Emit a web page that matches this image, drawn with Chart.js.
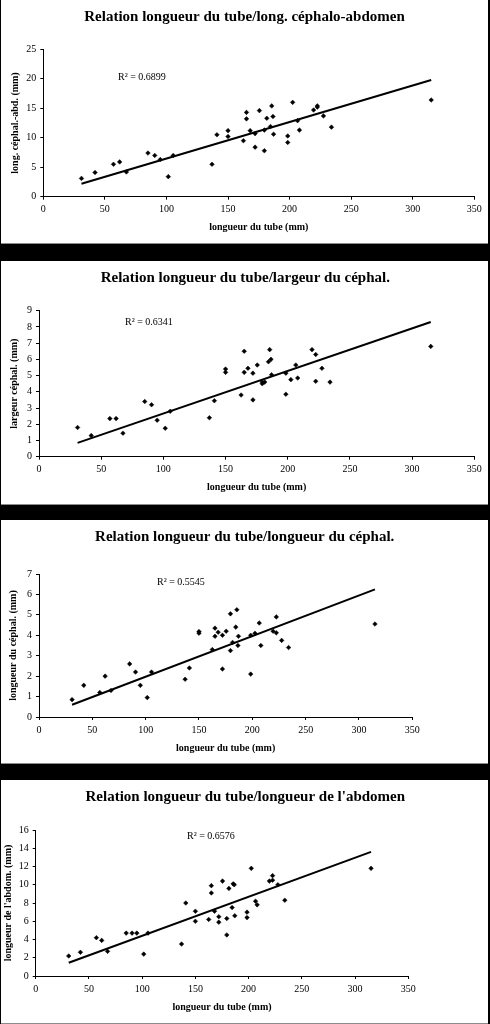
<!DOCTYPE html>
<html><head><meta charset="utf-8">
<script src="https://cdn.jsdelivr.net/npm/chart.js@4.4.0/dist/chart.umd.min.js"></script>
<style>
html,body{margin:0;padding:0;background:#000;width:490px;height:1024px;overflow:hidden;}
.panel{position:absolute;left:1px;width:487px;height:243px;background:#fff;border-bottom:1px solid #8c8c8c;}
.panel canvas{display:block;}
</style></head><body>
<div class="panel" style="top:0px"><canvas id="c1" width="487" height="243"></canvas></div>
<div class="panel" style="top:261px"><canvas id="c2" width="487" height="243"></canvas></div>
<div class="panel" style="top:520px"><canvas id="c3" width="487" height="243"></canvas></div>
<div class="panel" style="top:780px"><canvas id="c4" width="487" height="243"></canvas></div>
<script>
// ---- data ----
const tubeLength = [31, 42, 57, 62, 67.5, 85, 90.5, 95, 101.5, 105.5, 137, 141, 150, 150, 162.5, 165, 165, 168, 172, 172, 175.5, 179.5, 179.5, 181.5, 184.5, 185.5, 186.5, 187, 198.5, 198.5, 202.5, 206.5, 208, 219.5, 222.5, 222.5, 227.5, 234, 315];
const cephaloAbdomen = [3.1, 4.1, 5.5, 5.9, 4.2, 7.4, 7.0, 6.3, 3.4, 7.0, 5.5, 10.5, 11.2, 10.2, 9.5, 14.3, 13.2, 11.2, 10.7, 8.4, 14.6, 11.3, 7.8, 13.3, 11.9, 15.4, 13.6, 10.6, 10.3, 9.2, 16.0, 12.9, 11.3, 14.7, 15.4, 15.2, 13.7, 11.8, 16.4];
const largeurCephal = [1.8, 1.3, 2.35, 2.35, 1.45, 3.4, 3.2, 2.25, 1.75, 2.8, 2.4, 3.45, 5.4, 5.2, 3.8, 6.5, 5.2, 5.45, 3.5, 5.15, 5.65, 4.5, 4.6, 4.6, 5.85, 6.6, 6.0, 5.05, 5.15, 3.85, 4.75, 5.65, 4.85, 6.6, 6.3, 4.65, 5.45, 4.6, 6.8];
const longueurCephal = [0.85, 1.55, 1.2, 2.0, 1.3, 2.6, 2.2, 1.55, 0.95, 2.2, 1.85, 2.4, 4.18, 4.1, 3.3, 4.35, 3.95, 4.15, 4.0, 2.35, 4.2, 5.05, 3.25, 3.65, 4.4, 5.25, 3.5, 3.95, 4.0, 2.1, 4.1, 4.6, 3.5, 4.2, 4.9, 4.12, 3.75, 3.4, 4.55];
const longueurAbdomen = [2.2, 2.6, 4.2, 3.9, 2.7, 4.7, 4.7, 4.7, 2.4, 4.7, 3.5, 8.0, 7.1, 6.0, 6.2, 9.9, 9.1, 7.1, 6.5, 5.9, 10.4, 6.3, 4.5, 9.6, 7.5, 10.1, 10.0, 6.6, 7.0, 6.4, 11.8, 8.2, 7.8, 10.4, 11.0, 10.5, 10.0, 8.3, 11.8];
// trend lines (end points)
const trendX = [31, 315];
const trend1 = [2.2, 19.8];
const trend2 = [0.85, 8.3];
const trend3 = [0.6, 6.25];
const trend4 = [1.45, 13.6];
const titles = ["Relation longueur du tube/long. céphalo-abdomen", "Relation longueur du tube/largeur du céphal.", "Relation longueur du tube/longueur du céphal.", "Relation longueur du tube/longueur de l'abdomen"];
const yTitles = ["long. céphal.-abd. (mm)", "largeur céphal. (mm)", "longueur du céphal. (mm)", "longueur de l'abdom. (mm)"];
const xTitle = "longueur du tube (mm)";
const r2Labels = ["R² = 0.6899", "R² = 0.6341", "R² = 0.5545", "R² = 0.6576"];
const yMax = [25, 9, 7, 16];
const yStep = [5, 1, 1, 2];
const xTicks = [0, 50, 100, 150, 200, 250, 300, 350];

const FONT = "'Liberation Serif', 'Times New Roman', serif";

const textPlugin = {
  id: 'panelText',
  afterDraw(chart, args, opts) {
    const ctx = chart.ctx;
    ctx.save();
    ctx.fillStyle = '#000';
    ctx.textBaseline = 'middle';
    ctx.textAlign = 'center';
    ctx.font = "bold 15px " + FONT;
    ctx.fillText(opts.title, opts.titleX, opts.titleY);
    ctx.textAlign = 'left';
    ctx.font = "10px " + FONT;
    ctx.fillText(opts.r2, opts.r2X, opts.r2Y);
    ctx.restore();
  }
};

const layouts = [
  {L: 42.3, R: 13.7, T: 49.3, H: 46.3, ytp: 8, xtp: 10, titleX: 243.5, r2X: 117, r2Y: 77},
  {L: 38, R: 13.7, T: 49.7, H: 47.3, ytp: 7, xtp: 11, titleX: 244.3, r2X: 124, r2Y: 61},
  {L: 38, R: 75.7, T: 54, H: 46, ytp: 6, xtp: 9, titleX: 243.7, r2X: 156, r2Y: 62},
  {L: 34.7, R: 79.7, T: 50, H: 47, ytp: 1, xtp: 10, titleX: 244.3, r2X: 186, r2Y: 56}
];
const series = [cephaloAbdomen, largeurCephal, longueurCephal, longueurAbdomen];
const trends = [trend1, trend2, trend3, trend4];

series.forEach((ys, i) => {
  const lay = layouts[i];
  new Chart(document.getElementById('c' + (i + 1)), {
    type: 'scatter',
    data: {
      datasets: [
        {
          data: tubeLength.map((x, k) => ({x: x, y: ys[k]})),
          pointStyle: 'rectRot', pointRadius: 2.3, pointBackgroundColor: '#000', pointBorderColor: '#000', pointBorderWidth: 0.5,
          showLine: false
        },
        {
          type: 'line',
          data: trendX.map((x, k) => ({x: x, y: trends[i][k]})),
          borderColor: '#000', borderWidth: 2, pointRadius: 0, fill: false, showLine: true
        }
      ]
    },
    options: {
      responsive: false, animation: false, devicePixelRatio: 1,
      layout: {padding: {left: 0, right: lay.R, top: lay.T, bottom: 0}},
      plugins: {
        legend: {display: false}, tooltip: {enabled: false}, title: {display: false},
        panelText: {title: titles[i], titleX: lay.titleX, titleY: 17, r2: r2Labels[i], r2X: lay.r2X, r2Y: lay.r2Y}
      },
      scales: {
        x: {
          type: 'linear', min: 0, max: 350,
          afterBuildTicks: s => { s.ticks = xTicks.map(v => ({value: v})); },
          ticks: {color: '#000', font: {family: FONT, size: 10}, padding: 4, maxRotation: 0, autoSkip: false},
          grid: {drawOnChartArea: false, drawTicks: true, tickLength: 3, color: '#000'},
          border: {color: '#000', width: 1},
          title: {display: true, text: xTitle, color: '#000', font: {family: FONT, size: 10, weight: 'bold'}, padding: lay.xtp},
          afterFit: s => { s.height = lay.H; }
        },
        y: {
          type: 'linear', min: 0, max: yMax[i],
          ticks: {stepSize: yStep[i], color: '#000', font: {family: FONT, size: 10}, padding: 4},
          grid: {drawOnChartArea: false, drawTicks: true, tickLength: 3, color: '#000'},
          border: {color: '#000', width: 1},
          title: {display: true, text: yTitles[i], color: '#000', font: {family: FONT, size: 10, weight: 'bold'}, padding: lay.ytp},
          afterFit: s => { s.width = lay.L; }
        }
      }
    },
    plugins: [textPlugin]
  });
});
</script>
</body></html>
